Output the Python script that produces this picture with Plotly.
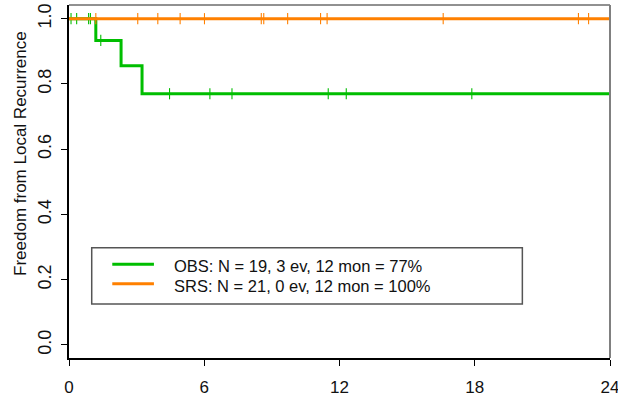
import numpy as np
import plotly.graph_objects as go

# Axis ticks
month_ticks = [0, 6, 12, 18, 24]
surv_ticks = [0.0, 0.2, 0.4, 0.6, 0.8, 1.0]
surv_tick_labels = ["0.0", "0.2", "0.4", "0.6", "0.8", "1.0"]

# Observation arm: event times (months) and Kaplan-Meier estimates after each event
obs_event_times = [1.19, 2.31, 3.24]
obs_event_surv = [0.9333, 0.8556, 0.77]
obs_censor_times = [0.09, 0.34, 0.87, 0.95, 1.41, 4.46, 6.25, 7.23, 11.5, 12.3, 17.87]

# SRS arm: no events
srs_event_times = []
srs_event_surv = []
srs_censor_times = [1.19, 3.05, 3.94, 4.93, 6.01, 8.53, 8.64, 9.7, 11.16, 11.45,
                    16.6, 22.6, 23.05]

follow_up_end = 24
legend_labels = ["OBS: N = 19, 3 ev, 12 mon = 77%",
                 "SRS: N = 21, 0 ev, 12 mon = 100%"]
arm_colors = ["#00BE00", "#FF8000"]

FONT = "Arial, Liberation Sans, sans-serif"


def km_step(event_times, event_surv, end):
    xs = [0.0] + list(event_times) + [end]
    ys = [1.0] + list(event_surv) + [event_surv[-1] if event_surv else 1.0]
    return xs, ys


def surv_at(times, event_times, event_surv):
    levels = np.array([1.0] + list(event_surv))
    idx = np.searchsorted(np.array(event_times, dtype=float), np.array(times), side="right")
    return levels[idx]


fig = go.Figure()
arms = [
    (obs_event_times, obs_event_surv, obs_censor_times, arm_colors[0], legend_labels[0]),
    (srs_event_times, srs_event_surv, srs_censor_times, arm_colors[1], legend_labels[1]),
]
for ev_t, ev_s, cens_t, color, name in arms:
    xs, ys = km_step(ev_t, ev_s, follow_up_end)
    fig.add_trace(go.Scatter(
        x=xs, y=ys, mode="lines", line=dict(color=color, width=3, shape="hv"),
        name=name, showlegend=False, hoverinfo="skip", cliponaxis=False))
    fig.add_trace(go.Scatter(
        x=cens_t, y=surv_at(cens_t, ev_t, ev_s), mode="markers",
        marker=dict(symbol="line-ns", size=8, line=dict(color=color, width=1.1)),
        showlegend=False, hoverinfo="skip"))

# Plot frame: top and right sides
shapes = [
    dict(type="line", xref="paper", yref="paper", x0=0, x1=1, y0=1, y1=1,
         line=dict(color="#222222", width=1)),
    dict(type="line", xref="paper", yref="paper", x0=1, x1=1, y0=0, y1=1,
         line=dict(color="#808080", width=2)),
]

# Legend box with line samples
shapes.append(dict(type="rect", xref="paper", yref="paper",
                   x0=0.042, x1=0.838, y0=0.153, y1=0.3125,
                   line=dict(color="#555555", width=1.5), fillcolor="rgba(0,0,0,0)"))
legend_rows_y = [0.2654, 0.2105]
annotations = []
for label, color, ry in zip(legend_labels, arm_colors, legend_rows_y):
    shapes.append(dict(type="line", xref="paper", yref="paper",
                       x0=0.080, x1=0.157, y0=ry, y1=ry,
                       line=dict(color=color, width=3)))
    annotations.append(dict(xref="paper", yref="paper", x=0.191, y=ry - 0.006,
                            xanchor="left", yanchor="middle", showarrow=False,
                            text=label, font=dict(family=FONT, size=16.5, color="#111111")))

annotations.append(dict(xref="paper", yref="paper", x=-0.0887, y=0.578,
                        xanchor="center", yanchor="middle", showarrow=False,
                        textangle=-90, text="Freedom from Local Recurrence",
                        font=dict(family=FONT, size=17, color="#111111")))

fig.update_layout(
    width=618, height=398,
    margin=dict(l=69, r=8, t=5, b=40, autoexpand=False),
    paper_bgcolor="white", plot_bgcolor="white",
    shapes=shapes, annotations=annotations,
    xaxis=dict(range=[0, 24], tickvals=month_ticks, ticktext=[str(v) for v in month_ticks],
               automargin=False,
               showgrid=False, zeroline=False, showline=True, linecolor="black", linewidth=1.5,
               ticks="outside", ticklen=6, tickcolor="black", tickwidth=1,
               ticklabelstandoff=7, ticklabeloverflow="allow",
               tickfont=dict(family=FONT, size=17, color="#111111")),
    yaxis=dict(range=[-0.04, 1.042], tickvals=surv_ticks, ticktext=surv_tick_labels,
               automargin=False,
               showgrid=False, zeroline=False, showline=True, linecolor="black", linewidth=1.5,
               ticks="outside", ticklen=6, tickcolor="black", tickwidth=1,
               tickangle=-90, ticklabelstandoff=3,
               tickfont=dict(family=FONT, size=18, color="#111111")),
)

fig.write_html("out.html")
